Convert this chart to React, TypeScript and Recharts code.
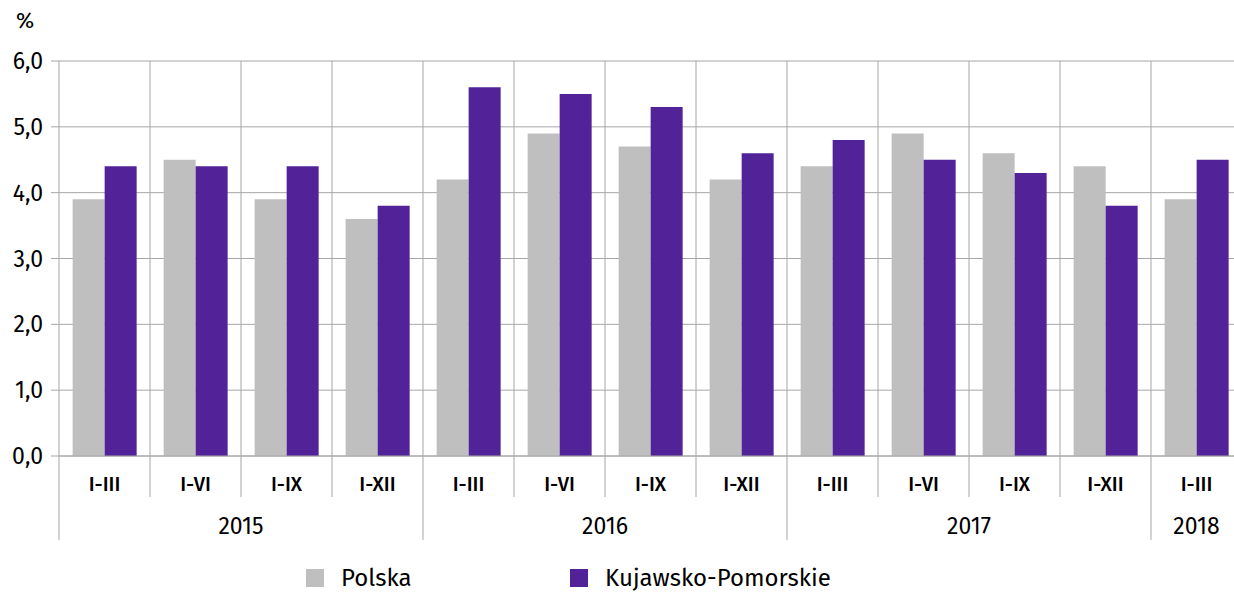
import React from 'react';
import { BarChart, Bar, XAxis, YAxis, CartesianGrid } from 'recharts';

const quarters = ['I-III', 'I-VI', 'I-IX', 'I-XII', 'I-III', 'I-VI', 'I-IX', 'I-XII', 'I-III', 'I-VI', 'I-IX', 'I-XII', 'I-III'];
const years = ['2015', '2015', '2015', '2015', '2016', '2016', '2016', '2016', '2017', '2017', '2017', '2017', '2018'];
const polska = [3.9, 4.5, 3.9, 3.6, 4.2, 4.9, 4.7, 4.2, 4.4, 4.9, 4.6, 4.4, 3.9];
const kujawsko = [4.4, 4.4, 4.4, 3.8, 5.6, 5.5, 5.3, 4.6, 4.8, 4.5, 4.3, 3.8, 4.5];
const yTicks = [0, 1, 2, 3, 4, 5, 6];
const seriesNames = ['Polska', 'Kujawsko-Pomorskie'];

const data = quarters.map((q, i) => ({ q, year: years[i], polska: polska[i], kp: kujawsko[i] }));

const FONT = "'Fira Sans', 'Noto Sans', sans-serif";
const GRID = '#a6a6a6';
const GRAY = '#bfbfbf';
const PURPLE = '#522398';

const QuarterTick = (props: any) => {
  const { x, y, index, payload, width, visibleTicksCount } = props;
  const band = width / visibleTicksCount;
  const left = x - band / 2;
  const yr = years[index];
  const firstOfYear = index === 0 || years[index - 1] !== yr;
  let count = 0;
  if (firstOfYear) {
    for (let j = index; j < years.length && years[j] === yr; j++) count++;
  }
  const top = y - 8;
  return (
    <g>
      <line x1={left} y1={top} x2={left} y2={top + (firstOfYear ? 84 : 41)} stroke={GRID} strokeWidth={1} />
      <text x={x} y={top + 35} textAnchor="middle" fontSize={20} fontWeight={500} fontFamily={FONT} fill="#000">{payload.value}</text>
      {firstOfYear && (
        <text x={left + (count * band) / 2} y={top + 78} textAnchor="middle" fontSize={23} fontFamily={FONT} fill="#000">{yr}</text>
      )}
    </g>
  );
};

export default function App() {
  return (
    <div style={{ position: 'fixed', left: 0, top: 0, width: 1234, height: 592, overflow: 'hidden', background: '#fff' }}>
      <div style={{ position: 'absolute', left: 16, top: 7, fontFamily: FONT, fontSize: 22, color: '#000' }}>%</div>
      <BarChart
        width={1250}
        height={592}
        data={data}
        margin={{ top: 61, right: 8, bottom: 52, left: 0 }}
        barCategoryGap="15%"
        barGap={0}
      >
        <CartesianGrid
          stroke={GRID}
          strokeWidth={1}
          verticalCoordinatesGenerator={({ offset }: any) =>
            quarters.map((_, i) => offset.left + (i * offset.width) / quarters.length).concat([offset.left + offset.width])
          }
        />
        <XAxis
          dataKey="q"
          interval={0}
          axisLine={{ stroke: GRID }}
          tickLine={false}
          height={84}
          tick={<QuarterTick />}
        />
        <YAxis
          domain={[0, 6]}
          ticks={yTicks}
          width={59}
          axisLine={false}
          tickLine={{ stroke: GRID }}
          tickSize={8}
          tickMargin={8}
          tick={{ fontSize: 23, fontFamily: FONT, fill: '#000' }}
          tickFormatter={(v: number) => v.toFixed(1).replace('.', ',')}
        />
        <Bar dataKey="polska" name={seriesNames[0]} fill={GRAY} isAnimationActive={false} />
        <Bar dataKey="kp" name={seriesNames[1]} fill={PURPLE} isAnimationActive={false} />
      </BarChart>
      <div style={{ position: 'absolute', left: 0, top: 564, width: 1234, height: 28, fontFamily: FONT, fontSize: 24, color: '#000' }}>
        {[GRAY, PURPLE].map((c, i) => (
          <div key={i} style={{ position: 'absolute', left: i === 0 ? 306 : 570, top: 0, display: 'flex', alignItems: 'flex-start', whiteSpace: 'nowrap' }}>
            <div style={{ width: 18, height: 18, background: c, marginTop: 5, marginRight: 17 }} />
            <span style={{ lineHeight: '28px', marginTop: 0 }}>{seriesNames[i]}</span>
          </div>
        ))}
      </div>
    </div>
  );
}
